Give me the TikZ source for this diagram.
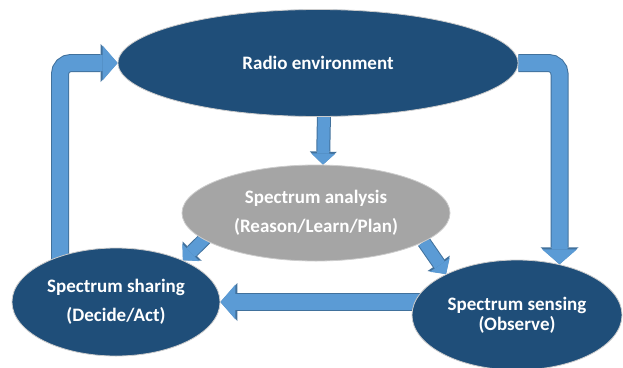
\documentclass[tikz,border=0pt]{standalone}
\usepackage{fontspec}
\setmainfont{Carlito}
\usepackage{xcolor}
\usetikzlibrary{arrows.meta}
\usetikzlibrary{shapes.geometric}
\usetikzlibrary{backgrounds}

\definecolor{envblue}{HTML}{1F4E79}
\definecolor{thinkgray}{HTML}{A5A5A5}
\definecolor{flowfill}{HTML}{5B9BD5}
\definecolor{flowline}{HTML}{41719C}

\begin{document}
\begin{tikzpicture}[x=1pt,y=-1pt,
  stage/.style={ellipse,fill=envblue,draw=white!80!black,line width=0.8pt,text=white,inner sep=0pt,align=center,font=\bfseries\fontsize{19}{29}\selectfont},
  bigflow/.style={draw=flowfill,line width=16pt,rounded corners=11pt,-{Triangle[length=15pt,width=35pt,line width=0pt]},
    preaction={draw=flowline,line width=18pt,-{Triangle[length=17pt,width=38pt,line width=0pt]}}},
  smallflow/.style={draw=flowfill,line width=12pt,-{Triangle[length=11pt,width=24pt,line width=0pt]},
    preaction={draw=flowline,line width=14pt,-{Triangle[length=13pt,width=27pt,line width=0pt]}}}]
\useasboundingbox (0,0) rectangle (623,367);

\node[stage,minimum width=400pt,minimum height=107pt] (env) at (318,63) {Radio environment};
\node[stage,fill=thinkgray,minimum width=268pt,minimum height=96pt] (analysis) at (316,213) {Spectrum analysis\\(Reason/Learn/Plan)};
\node[stage,minimum width=208pt,minimum height=108pt] (share) at (116,302) {Spectrum sharing\\(Decide/Act)};
\node[stage,minimum width=210pt,minimum height=110pt,font=\bfseries\fontsize{19}{20}\selectfont] (sense) at (517,315) {Spectrum sensing\\(Observe)};

% the block arrows go under the ellipses
\begin{scope}[on background layer]
\fill[white] (0,0) rectangle (623,367);
\draw[bigflow] (share.center) -- ++(-56,0) |- (env.west);
\draw[bigflow] (env.east) -| (sense.50);
\draw[bigflow] (sense.center |- share.east) -- (share.east);
\draw[smallflow] ([xshift=7pt]env.center) -- ([xshift=7pt]analysis.north);
\draw[smallflow] ([xshift=14pt]analysis.190) -- (share.32);
\draw[smallflow] (analysis.345) -- (sense.150);
\end{scope}
\end{tikzpicture}
\end{document}
